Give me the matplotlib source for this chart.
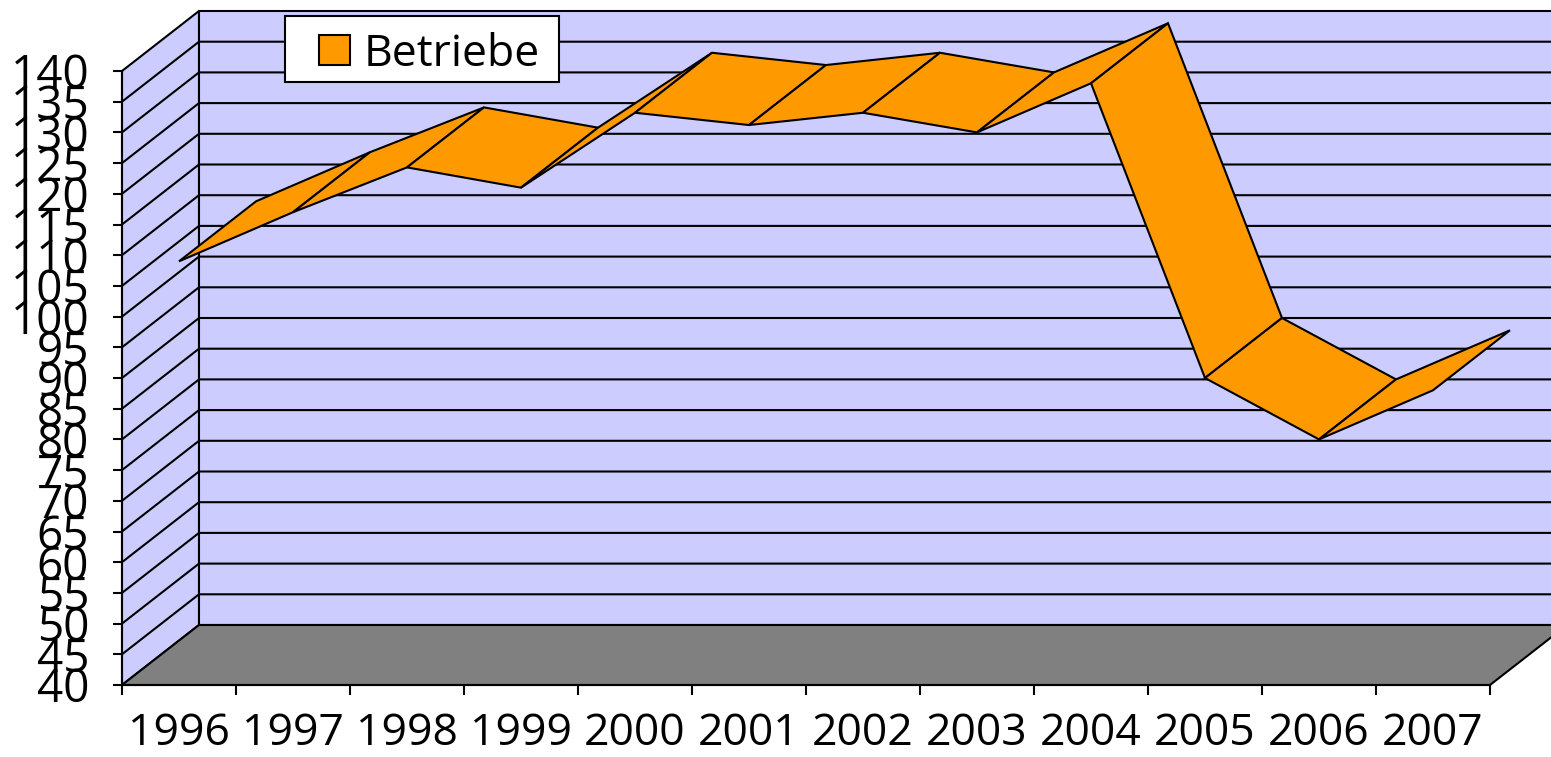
import matplotlib
matplotlib.use('Agg')
import matplotlib.pyplot as plt
from matplotlib.patches import Patch, Polygon, Rectangle

years = ['1996', '1997', '1998', '1999', '2000', '2001', '2002', '2003', '2004', '2005', '2006', '2007']
betriebe = [109, 117, 124.3, 121, 133.2, 131.2, 133.2, 130, 138, 90, 80, 88]
y_ticks = list(range(40, 141, 5))

WIDTH, HEIGHT = 1551, 757
DEPTH_X = 77 / 114  # in categories
DEPTH_Y = 60 / 6.14  # in value units
LW = 1.5

plt.rcParams['font.family'] = ['Open Sans', 'DejaVu Sans']

fig = plt.figure(figsize=(WIDTH / 100, HEIGHT / 100), dpi=100)
ax = fig.add_axes([122 / WIDTH, (HEIGHT - 685) / HEIGHT, 1368 / WIDTH, 614 / HEIGHT])
ax.set_xlim(0, len(years))
ax.set_ylim(40, 140)
ax.patch.set_visible(False)


def poly(points, color, z):
    ax.add_patch(Polygon(points, closed=True, facecolor=color, edgecolor='black',
                         linewidth=LW, joinstyle='miter', clip_on=False, zorder=z))


n = len(years)
poly([(0, 40), (0, 140), (DEPTH_X, 140 + DEPTH_Y), (DEPTH_X, 40 + DEPTH_Y)], '#CCCCFF', 1)
poly([(DEPTH_X, 40 + DEPTH_Y), (DEPTH_X, 140 + DEPTH_Y), (n + DEPTH_X, 140 + DEPTH_Y), (n + DEPTH_X, 40 + DEPTH_Y)], '#CCCCFF', 1)
poly([(0, 40), (DEPTH_X, 40 + DEPTH_Y), (n + DEPTH_X, 40 + DEPTH_Y), (n, 40)], '#808080', 1)

for v in y_ticks[1:-1]:
    ax.plot([0, DEPTH_X, n + DEPTH_X], [v, v + DEPTH_Y, v + DEPTH_Y], color='black',
            linewidth=LW, clip_on=False, zorder=2)

# one parallelogram per year step, drawn left to right
for i in range(n - 1):
    x0, x1 = i + 0.5, i + 1.5
    a, b = betriebe[i], betriebe[i + 1]
    poly([(x0, a), (x1, b), (x1 + DEPTH_X, b + DEPTH_Y), (x0 + DEPTH_X, a + DEPTH_Y)], '#FF9900', 3 + i * 0.01)

for side in ['top', 'right']:
    ax.spines[side].set_visible(False)
for side in ['left', 'bottom']:
    ax.spines[side].set_linewidth(LW)
    ax.spines[side].set_zorder(4)

ax.set_yticks(y_ticks)
ax.tick_params(axis='y', length=6.5, width=LW, pad=17, labelsize=33)
ax.set_xticks(range(n + 1))
ax.set_xticklabels([])
ax.set_xticks([i + 0.5 for i in range(n)], minor=True)
ax.set_xticklabels(years, minor=True)
ax.tick_params(axis='x', which='major', length=7.5, width=LW)
ax.tick_params(axis='x', which='minor', length=0, pad=19, labelsize=32)

# frame is separate, the legend pad is not the same across and down in the original
fig.add_artist(Rectangle((285 / WIDTH, 1 - 82 / HEIGHT), 274 / WIDTH, 66 / HEIGHT,
                         transform=fig.transFigure, facecolor='white', edgecolor='black',
                         linewidth=LW, zorder=5))
handle = Patch(facecolor='#FF9900', edgecolor='black', linewidth=LW, label='Betriebe')
legend = fig.legend(handles=[handle], loc='upper left',
                    bbox_to_anchor=(319 / WIDTH, 1 - 32 / HEIGHT), bbox_transform=fig.transFigure,
                    fontsize=32, frameon=False, borderaxespad=0, borderpad=0,
                    handlelength=0.7, handleheight=0.68, handletextpad=0.3)
legend.set_zorder(6)

fig.savefig('out.png', dpi=100)
plt.close(fig)
